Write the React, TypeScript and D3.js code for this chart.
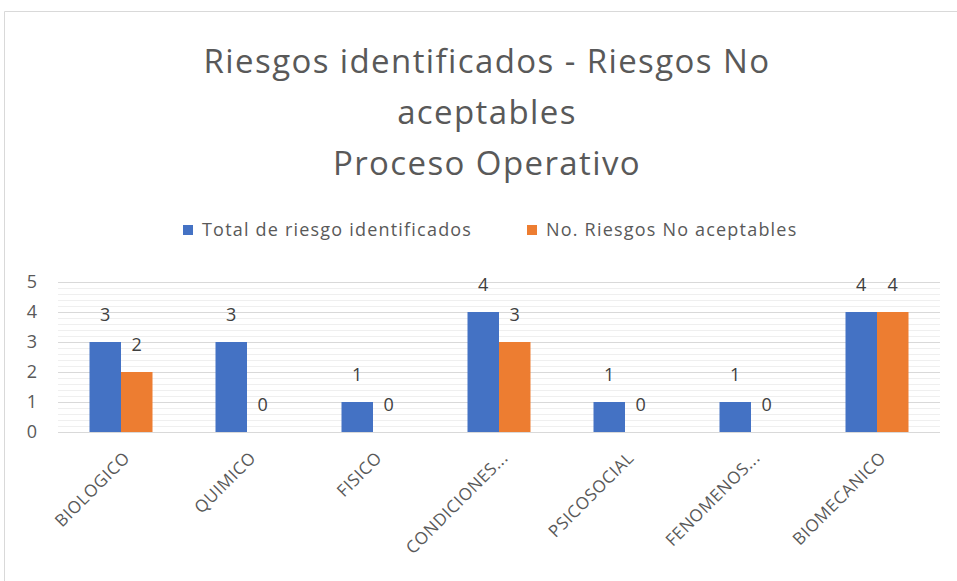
import React, { useEffect, useRef } from 'react';
import * as d3 from 'd3';

const categories = ['BIOLOGICO', 'QUIMICO', 'FISICO', 'CONDICIONES...', 'PSICOSOCIAL', 'FENOMENOS...', 'BIOMECANICO'];
const totalIdentificados = [3, 3, 1, 4, 1, 1, 4];
const noAceptables = [2, 0, 0, 3, 0, 0, 4];
const seriesNames = ['Total de riesgo identificados', 'No. Riesgos No aceptables'];
const seriesColors = ['#4472c4', '#ed7d31'];
const titleLines = ['Riesgos identificados - Riesgos No', 'aceptables', 'Proceso Operativo'];
const yTicks = [0, 1, 2, 3, 4, 5];

const FONT = "'Open Sans', 'Noto Sans', sans-serif";

const App = () => {
  const svgRef = useRef<SVGSVGElement>(null);

  useEffect(() => {
    const W = 957;
    const H = 581;
    const svg = d3.select(svgRef.current).attr('width', W).attr('height', H);
    svg.selectAll('*').remove();

    svg.append('rect').attr('width', W).attr('height', H).attr('fill', '#fff');

    // chart frame (left + top edges visible)
    svg.append('path').attr('d', `M4.5,${H} L4.5,11.5 L${W},11.5`)
      .attr('fill', 'none').attr('stroke', '#d9d9d9').attr('stroke-width', 1);

    // title
    svg.append('g').selectAll('text').data(titleLines).enter().append('text')
      .attr('x', 487).attr('y', (d, i) => 73 + i * 51)
      .attr('text-anchor', 'middle')
      .style('font-family', FONT).style('font-size', '33px').style('letter-spacing', '1.4px').style('fill', '#595959')
      .text(d => d);

    // legend
    const legendX = [183, 527];
    const legend = svg.append('g').selectAll('g').data(seriesNames).enter().append('g')
      .attr('transform', (d, i) => `translate(${legendX[i]},225)`);
    legend.append('rect').attr('width', 10).attr('height', 10).attr('fill', (d, i) => seriesColors[i]);
    legend.append('text').attr('x', 19).attr('y', 11)
      .style('font-family', FONT).style('font-size', '18px').style('letter-spacing', '1.2px').style('fill', '#595959')
      .text(d => d);

    const margin = { left: 58, right: 17, top: 282, bottom: 149 };
    const plotW = W - margin.left - margin.right;
    const plotH = H - margin.top - margin.bottom;
    const g = svg.append('g').attr('transform', `translate(${margin.left},${margin.top})`);

    const x0 = d3.scaleBand().domain(categories).range([0, plotW]).paddingInner(0.5).paddingOuter(0.25);
    const x1 = d3.scaleBand().domain(['0', '1']).range([0, x0.bandwidth()]);
    const y = d3.scaleLinear().domain([0, 5]).range([plotH, 0]);

    // minor gridlines
    g.append('g').selectAll('line').data(d3.range(0, 5.0001, 0.2).filter(v => Math.abs(v - Math.round(v)) > 0.01))
      .enter().append('line')
      .attr('x1', 0).attr('x2', plotW).attr('y1', d => Math.round(y(d)) + 0.5).attr('y2', d => Math.round(y(d)) + 0.5)
      .attr('stroke', '#efefef').attr('stroke-width', 1);
    // major gridlines
    g.append('g').selectAll('line').data(yTicks).enter().append('line')
      .attr('x1', 0).attr('x2', plotW).attr('y1', d => Math.round(y(d)) + 0.5).attr('y2', d => Math.round(y(d)) + 0.5)
      .attr('stroke', '#d9d9d9').attr('stroke-width', 1);

    // y tick labels
    g.append('g').selectAll('text').data(yTicks).enter().append('text')
      .attr('x', -26).attr('y', d => y(d)).attr('dy', '0.36em').attr('text-anchor', 'middle')
      .style('font-family', FONT).style('font-size', '18px').style('fill', '#595959')
      .text(d => d);

    const series = [totalIdentificados, noAceptables];
    series.forEach((vals, si) => {
      const sg = g.append('g');
      sg.selectAll('rect').data(vals).enter().append('rect')
        .attr('x', (d, i) => (x0(categories[i]) as number) + (x1(String(si)) as number))
        .attr('y', d => y(d))
        .attr('width', x1.bandwidth())
        .attr('height', d => plotH - y(d))
        .attr('fill', seriesColors[si]);
      sg.selectAll('text').data(vals).enter().append('text')
        .attr('x', (d, i) => (x0(categories[i]) as number) + (x1(String(si)) as number) + x1.bandwidth() / 2)
        .attr('y', d => y(d) - 21)
        .attr('text-anchor', 'middle')
        .style('font-family', FONT).style('font-size', '18px').style('fill', '#404040')
        .text(d => d);
    });

    // category labels
    g.append('g').selectAll('text').data(categories).enter().append('text')
      .attr('transform', d => `translate(${(x0(d) as number) + x0.bandwidth() / 2 + 10},${plotH + 27}) rotate(-45)`)
      .attr('text-anchor', 'end')
      .style('font-family', FONT).style('font-size', '17px').style('letter-spacing', '0.6px').style('fill', '#595959')
      .text(d => d);
  }, []);

  return <svg ref={svgRef} style={{ position: 'absolute', left: 0, top: 0 }}></svg>;
};

export default App;
